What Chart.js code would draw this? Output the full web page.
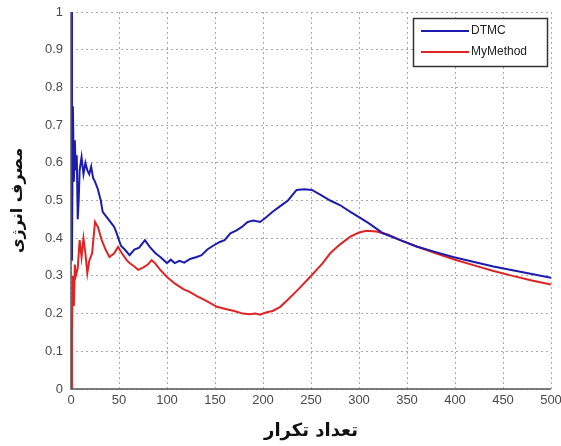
<!DOCTYPE html>
<html>
<head>
<meta charset="utf-8">
<script src="https://cdn.jsdelivr.net/npm/chart.js@4/dist/chart.umd.min.js"></script>
<style>
html,body{margin:0;padding:0;background:#fff;}
#wrap{position:relative;width:561px;height:446px;}
</style>
</head>
<body>
<div id="wrap"><canvas id="c" width="561" height="446"></canvas></div>
<script>
// Data
const dtmcIter = [0,1,2,3,4,5,6,7,8,9,11,13,15,17,19,21,23,25,28,31,33,36,39,42,45,48,52,56,61,66,71,77,82,88,93,100,104,108,113,118,124,131,136,142,148,155,160,166,172,178,184,190,197,203,210,218,226,235,243,251,260,270,280,291,300,310,325,343,360,380,398,420,440,460,480,500];
const dtmcVals = [1.0,0.34,0.75,0.55,0.66,0.58,0.62,0.45,0.50,0.58,0.615,0.57,0.60,0.58,0.57,0.59,0.56,0.55,0.53,0.50,0.47,0.46,0.45,0.44,0.43,0.41,0.38,0.37,0.355,0.37,0.375,0.395,0.377,0.36,0.35,0.334,0.343,0.334,0.34,0.335,0.345,0.35,0.355,0.37,0.38,0.39,0.395,0.413,0.42,0.43,0.443,0.447,0.443,0.455,0.47,0.485,0.50,0.528,0.53,0.528,0.515,0.50,0.488,0.47,0.456,0.44,0.413,0.395,0.378,0.363,0.35,0.337,0.325,0.315,0.305,0.295];
const myIter = [0,1,2,3,4,5,7,9,11,13,15,17,19,22,25,28,32,36,40,45,49,53,58,61,66,70,75,80,84,87,93,100,108,117,124,132,140,152,160,170,179,186,192,197,203,210,218,225,237,249,262,270,280,291,300,308,318,330,343,360,380,400,420,440,460,480,500];
const myVals = [0.0,0.15,0.30,0.22,0.33,0.30,0.32,0.395,0.35,0.40,0.36,0.307,0.34,0.36,0.443,0.43,0.395,0.37,0.35,0.36,0.377,0.36,0.342,0.334,0.325,0.316,0.322,0.33,0.342,0.335,0.316,0.297,0.28,0.265,0.257,0.245,0.235,0.218,0.213,0.207,0.2,0.198,0.2,0.197,0.203,0.207,0.218,0.235,0.265,0.297,0.333,0.36,0.383,0.404,0.415,0.42,0.418,0.41,0.395,0.378,0.36,0.343,0.328,0.313,0.30,0.288,0.277];
const seriesNames = ['DTMC','MyMethod'];
const yTicks = [0,0.1,0.2,0.3,0.4,0.5,0.6,0.7,0.8,0.9,1];
const xTicks = [0,50,100,150,200,250,300,350,400,450,500];
const xTitle = 'تعداد تکرار';
const yTitle = 'مصرف انرژی';

const toPts = (xs, ys) => xs.map((x,i)=>({x:x,y:ys[i]}));

const legendPlugin = {
  id:'insideLegend',
  afterDraw(chart){
    const ctx = chart.ctx;
    const x0 = 413, y0 = 18, w = 134, h = 48;
    ctx.save();
    ctx.fillStyle = '#fff';
    ctx.fillRect(x0,y0,w,h);
    ctx.strokeStyle = '#333';
    ctx.lineWidth = 1.5;
    ctx.strokeRect(x0+0.5,y0+0.5,w,h);
    ctx.font = '12px "Liberation Sans", Arial, sans-serif';
    ctx.textBaseline = 'middle';
    chart.data.datasets.forEach((ds,i)=>{
      const yy = y0 + 13 + i*21;
      ctx.strokeStyle = ds.borderColor;
      ctx.lineWidth = 2;
      ctx.beginPath();
      ctx.moveTo(x0+8,yy);
      ctx.lineTo(x0+56,yy);
      ctx.stroke();
      ctx.fillStyle = '#222';
      ctx.fillText(ds.label, x0+58, yy);
    });
    ctx.restore();
  }
};

const frame = {
  id:'frame',
  afterDatasetsDraw(chart){
    const {ctx, chartArea:a} = chart;
    ctx.save();
    ctx.strokeStyle = '#555';
    ctx.lineWidth = 1.5;
    ctx.beginPath();
    ctx.moveTo(a.left, a.top);
    ctx.lineTo(a.left, a.bottom);
    ctx.lineTo(a.right, a.bottom);
    ctx.stroke();
    ctx.restore();
  }
};

new Chart(document.getElementById('c'), {
  type:'line',
  data:{
    datasets:[
      {label:seriesNames[0], data:toPts(dtmcIter,dtmcVals), borderColor:'#1c1cb0', borderWidth:2, pointRadius:0, tension:0, fill:false},
      {label:seriesNames[1], data:toPts(myIter,myVals), borderColor:'#e02424', borderWidth:2, pointRadius:0, tension:0, fill:false}
    ]
  },
  options:{
    responsive:false,
    animation:false,
    layout:{padding:{top:12,right:10,left:4,bottom:0}},
    plugins:{legend:{display:false}, tooltip:{enabled:false}},
    scales:{
      x:{
        type:'linear', min:0, max:500,
        afterBuildTicks(s){ s.ticks = xTicks.map(v=>({value:v})); },
        afterFit(s){ s.height = 57; s.paddingLeft = 0; s.paddingRight = 0; },
        grid:{color:'#aaa', lineWidth:1, drawTicks:false},
        border:{display:false, dash:[2,3]},
        ticks:{color:'#4a4a4a', font:{family:'"Liberation Sans", Arial, sans-serif', size:13}, padding:4, maxRotation:0, callback:v=>String(v)},
        title:{display:true, text:xTitle, color:'#111', font:{family:'"DejaVu Sans", sans-serif', size:18, weight:'bold'}, padding:{top:6}}
      },
      y:{
        type:'linear', min:0, max:1,
        afterBuildTicks(s){ s.ticks = yTicks.map(v=>({value:v})); },
        afterFit(s){ s.width = 67; s.paddingTop = 0; s.paddingBottom = 0; },
        grid:{color:'#aaa', lineWidth:1, drawTicks:false},
        border:{display:false, dash:[2,3]},
        ticks:{color:'#4a4a4a', font:{family:'"Liberation Sans", Arial, sans-serif', size:13}, padding:8, callback:v=>String(v)},
        title:{display:true, text:yTitle, color:'#111', font:{family:'"DejaVu Sans", sans-serif', size:16, weight:'bold'}, padding:{bottom:6}}
      }
    }
  },
  plugins:[frame, legendPlugin]
});
</script>
</body>
</html>
